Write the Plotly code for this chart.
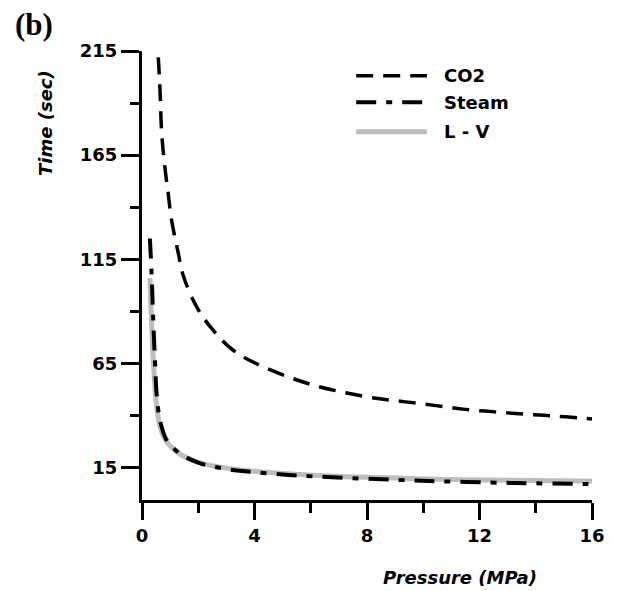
import plotly.graph_objects as go

# CO2
co2_p = [0.58, 0.64, 0.70, 0.81, 0.93, 1.05, 1.29, 1.46, 1.94, 2.52, 3.23, 4.06, 5.18, 6.18, 7.24, 8.31, 9.37, 10.45, 11.49, 12.55, 13.61, 14.68, 15.74, 16.0]
co2_t = [212.0, 196.5, 175.7, 159.6, 146.8, 134.0, 118.0, 107.5, 92.3, 81.1, 71.5, 65.0, 58.7, 54.3, 51.0, 48.3, 46.6, 44.8, 43.0, 41.8, 40.7, 39.8, 38.7, 38.4]

# Steam
steam_p = [0.28, 0.34, 0.40, 0.46, 0.52, 0.64, 0.88, 1.35, 2.05, 3.0, 4.06, 5.59, 7.25, 9.02, 10.5, 12.32, 13.97, 15.74, 16.0]
steam_t = [125.0, 108.5, 85.9, 66.7, 50.7, 37.8, 28.2, 21.8, 17.2, 14.4, 12.8, 11.2, 10.1, 9.2, 8.5, 7.9, 7.5, 7.2, 7.1]

# L - V
lv_p = [0.28, 0.32, 0.37, 0.43, 0.50, 0.62, 0.80, 1.30, 2.0, 3.0, 4.06, 5.59, 7.25, 9.02, 10.5, 12.32, 13.97, 15.74, 16.0]
lv_t = [106.0, 92.0, 75.0, 60.0, 47.0, 36.0, 29.0, 22.0, 17.6, 14.8, 13.2, 11.7, 10.7, 10.0, 9.5, 9.1, 8.8, 8.6, 8.5]

x_ticks = [0, 4, 8, 12, 16]
y_ticks = [15, 65, 115, 165, 215]
legend_names = ["CO2", "Steam", "L - V"]

font = "DejaVu Sans, Verdana, sans-serif"

styles = {
    "CO2": dict(color="black", width=3.5, dash="17px,10px"),
    "Steam": dict(color="black", width=4, dash="20px,10px,6px,10px"),
    "L - V": dict(color="#bdbdbd", width=5),
}

fig = go.Figure()
fig.add_trace(go.Scatter(x=lv_p, y=lv_t, mode="lines", name="L - V",
                         line=dict(**styles["L - V"], shape="spline")))
fig.add_trace(go.Scatter(x=co2_p, y=co2_t, mode="lines", name="CO2",
                         line=dict(**styles["CO2"], shape="spline")))
fig.add_trace(go.Scatter(x=steam_p, y=steam_t, mode="lines", name="Steam",
                         line=dict(**styles["Steam"], shape="spline")))

# manual legend (key samples + labels) in paper coordinates
shapes = []
annotations = []
leg_y = [0.945, 0.886, 0.820]
for name, ly in zip(legend_names, leg_y):
    shapes.append(dict(type="line", xref="paper", yref="paper",
                       x0=0.476, x1=0.633, y0=ly, y1=ly, line=styles[name]))
    annotations.append(dict(text="<b>" + name + "</b>", xref="paper", yref="paper",
                            x=0.666, y=ly, xanchor="left", yanchor="middle",
                            showarrow=False, font=dict(family=font, size=18, color="black")))

annotations += [
    dict(text="<b><i>Time (sec)</i></b>", xref="paper", yref="paper",
         x=-0.213, y=0.84, xanchor="center", yanchor="middle", textangle=-90,
         showarrow=False, font=dict(family=font, size=18)),
    dict(text="<b><i>Pressure (MPa)</i></b>", xref="paper", yref="paper",
         x=0.706, y=-0.172, xanchor="center", yanchor="middle",
         showarrow=False, font=dict(family=font, size=18)),
    dict(text="<b>(b)</b>", xref="paper", yref="paper",
         x=-0.241, y=1.058, xanchor="center", yanchor="middle",
         showarrow=False, font=dict(family="Liberation Serif, Times New Roman, serif", size=31)),
]

fig.update_layout(
    width=617, height=591,
    margin=dict(l=142, r=23, t=51, b=91),
    paper_bgcolor="white", plot_bgcolor="white",
    font=dict(family=font, size=18, color="black"),
    showlegend=False,
    xaxis=dict(range=[0, 16], tickvals=x_ticks, ticktext=[str(v) for v in x_ticks],
               showline=True, linewidth=3, linecolor="black",
               ticks="outside", ticklen=17, tickwidth=3, tickcolor="black",
               minor=dict(tickvals=[2, 6, 10, 14], ticks="outside", ticklen=10, tickwidth=3, tickcolor="black"),
               showgrid=False, zeroline=False,
               tickfont=dict(family=font, size=18, weight="bold")),
    yaxis=dict(range=[-0.5, 215], tickvals=y_ticks, ticktext=[str(v) for v in y_ticks],
               showline=True, linewidth=3, linecolor="black",
               ticks="outside", ticklen=18, tickwidth=3, tickcolor="black",
               minor=dict(tickvals=[40, 90, 140, 190], ticks="outside", ticklen=9, tickwidth=3, tickcolor="black"),
               showgrid=False, zeroline=False,
               tickfont=dict(family=font, size=18, weight="bold")),
    shapes=shapes,
    annotations=annotations,
)

fig.write_html("out.html")
